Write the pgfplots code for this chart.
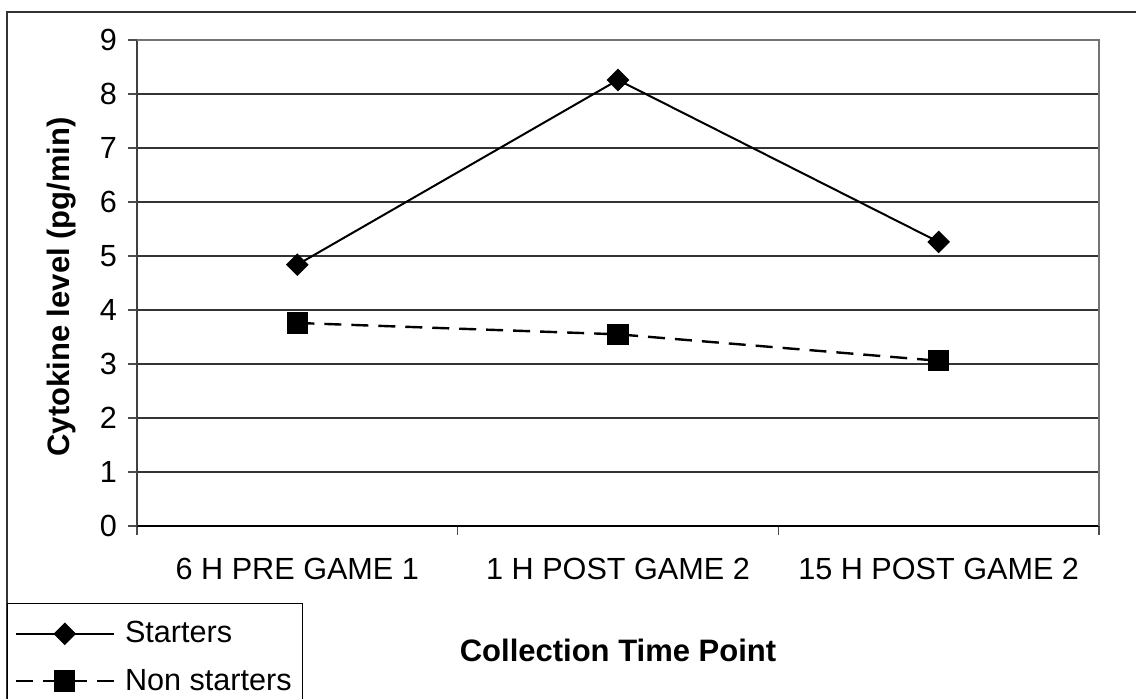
\documentclass[border=0pt]{standalone}
\usepackage{fontspec}
\setmainfont{Liberation Sans}
\usepackage{pgfplots}
\pgfplotsset{compat=1.18}
\begin{document}
\begin{tikzpicture}[x=1pt,y=1pt]
\useasboundingbox (0,0) rectangle (568,349);
\draw[black!80, line width=1pt] (3.5,-10) rectangle (580,343);
\begin{axis}[
  at={(68.5pt,86pt)}, anchor=south west,
  scale only axis, width=481pt, height=243pt,
  xmin=-0.5, xmax=2.5, ymin=0, ymax=9,
  xtick={0,1,2},
  xticklabels={6 H PRE GAME 1, 1 H POST GAME 2, 15 H POST GAME 2},
  minor xtick={-0.5,0.5,1.5,2.5},
  ytick={0,1,...,9},
  tick align=outside,
  major tick length=4.5pt, minor tick length=4.5pt,
  major x tick style={draw=none},
  minor x tick style={black!70, line width=0.6pt},
  y tick style={black!70, line width=0.6pt},
  ymajorgrids,
  major grid style={black!80, line width=0.55pt},
  axis x line*=bottom, axis y line*=left,
  x axis line style={-, black, line width=0.8pt},
  y axis line style={-, black!75, line width=0.8pt},
  /pgf/number format/assume math mode=true,
  tick label style={font=\fontsize{15.3}{18}\selectfont},
  xticklabel style={yshift=-8pt},
  yticklabel style={xshift=-2pt},
  xlabel={\textbf{Collection Time Point}},
  ylabel={\textbf{Cytokine level (pg/min)}},
  label style={font=\fontsize{15.5}{18}\selectfont},
  xlabel style={at={(axis description cs:0.5,-0.255)}, anchor=center},
  ylabel style={at={(axis description cs:-0.078,0.492)}, anchor=center, rotate=0},
  legend style={at={(axis description cs:-0.1351,-0.1584)}, anchor=north west,
    draw=black, line width=0.6pt, font=\fontsize{15.3}{18}\selectfont,
    inner xsep=3.5pt, inner ysep=7pt, row sep=7.5pt},
  legend cell align=left,
  legend image code/.code={\draw[mark repeat=2,mark phase=2,#1] plot coordinates {(0pt,0pt) (24.5pt,0pt) (49pt,0pt)}; \path (52pt,0pt);},
  clip=false,
]
\addplot[black, line width=1pt, mark=square*, mark size=3.5pt, mark options={rotate=45, solid}]
  coordinates {(0,4.84) (1,8.26) (2,5.26)};
\addlegendentry{Starters}
\addplot[black, line width=1.2pt, dash pattern=on 8.5pt off 5pt, mark=square*, mark size=4.7pt, mark options={solid}]
  coordinates {(0,3.76) (1,3.55) (2,3.06)};
\addlegendentry{Non starters}
\draw[black!55, line width=0.8pt] (rel axis cs:0,1) -- (rel axis cs:1,1) -- (rel axis cs:1,0);
\end{axis}
\end{tikzpicture}
\end{document}
